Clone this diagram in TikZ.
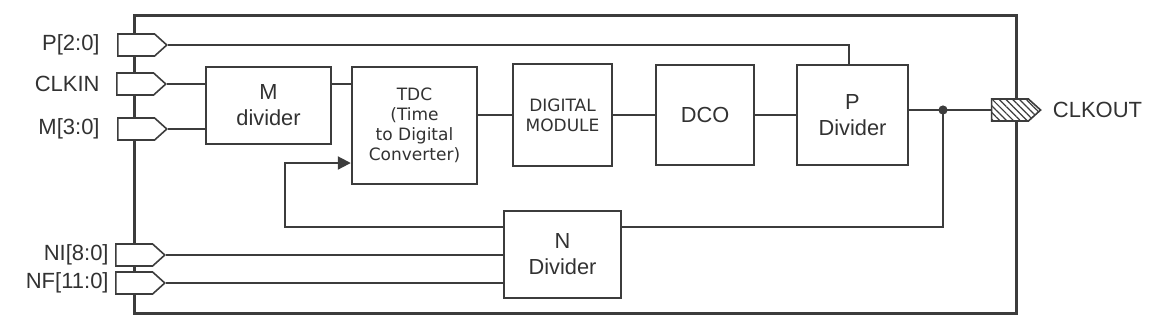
\documentclass[tikz,border=0pt]{standalone}
\usepackage{fontspec}
\setmainfont{Liberation Sans}
\newfontfamily\vfont{DejaVu Sans}
\usetikzlibrary{shapes.symbols, arrows.meta, positioning, calc, patterns.meta}
\definecolor{mydark}{RGB}{60,60,60}
\definecolor{mytext}{RGB}{50,50,50}
\tikzset{
  wire/.style={draw=mydark, line width=1pt},
  arrow/.style={wire, -{Triangle[length=6.5pt, width=6.5pt]}},
  blk/.style={draw=mydark, line width=1.2pt, fill=white, rectangle, align=center, inner sep=0pt, text=mytext, font=\fontsize{10.9}{13}\selectfont},
  vblk/.style={blk, font=\vfont\fontsize{8.5}{10}\selectfont},
  pin/.style={signal, signal to=east, signal pointer angle=84, draw=mydark, line width=0.8pt, fill=white, minimum width=24.5pt, minimum height=11pt, inner sep=0pt, anchor=west},
  pinlbl/.style={inner sep=0pt, text=mytext, font=\fontsize{11}{13}\selectfont}
}
\begin{document}
\begin{tikzpicture}[x=0.5pt, y=-0.5pt]
  \useasboundingbox (0,0) rectangle (1154,329);
  % chip boundary
  \draw[draw=mydark, line width=1.5pt] (134,15) rectangle (1016,313);

  % pins
  \node[pin] (pp) at (117,45) {};
  \node[pin] (pclk) at (116,84) {};
  \node[pin] (pm) at (117,129) {};
  \node[pin] (pni) at (115,255) {};
  \node[pin] (pnf) at (115,283) {};
  \node[pin, fill=none, preaction={fill=white}, pattern={Lines[angle=-45, distance=2.4pt, line width=0.6pt]}, pattern color=mydark] (pout) at (991,110) {};

  \node[pinlbl, left=8.5pt of pp] (lp) {P[2:0]};
  \node[pinlbl, left=8pt of pclk] (lclk) {CLKIN};
  \node[pinlbl, left=8.5pt of pm] (lm) {M[3:0]};
  \node[pinlbl, left=3pt of pni] (lni) {NI[8:0]};
  \node[pinlbl, left=3pt of pnf] (lnf) {NF[11:0]};
  \node[pinlbl, right=5.5pt of pout] (lout) {CLKOUT};

  % blocks
  \node[blk, minimum width=62.5pt, minimum height=38.5pt] (mdiv) at (268.5,105.5) {M\\divider};
  \node[vblk, minimum width=62.5pt, minimum height=58.5pt] (tdc) at (414.5,125.5) {TDC\\(Time\\to Digital\\Converter)};
  \node[vblk, minimum width=49.5pt, minimum height=51pt] (dig) at (562.5,115) {DIGITAL\\MODULE};
  \node[blk, minimum width=49pt, minimum height=50pt] (dco) at (705,115) {DCO};
  \node[blk, minimum width=55.5pt, minimum height=50pt] (pdiv) at (852.5,115) {P\\Divider};
  \node[blk, minimum width=58.5pt, minimum height=43.5pt] (ndiv) at (562.5,254.5) {N\\Divider};

  \coordinate (tap) at (943,110);
  \coordinate (fbr) at (943,227);
  \coordinate (fbl) at (285,227);
  \coordinate (fbt) at (285,163);

  % signal paths
  \draw[wire] (pclk.east) -- (pclk.east -| mdiv.west);
  \draw[wire] (pm.east) -- (pm.east -| mdiv.west);
  \draw[wire] (mdiv.east |- pclk.east) -- (tdc.west |- pclk.east);
  \draw[wire] (pp.east) -| ([xshift=-2pt]pdiv.north);
  \draw[wire] (tdc.east |- dig.west) -- (dig.west);
  \draw[wire] (dig) -- (dco);
  \draw[wire] (dco) -- (pdiv);
  \draw[wire] (pdiv.east |- tap) -- (pout.west);
  \fill[mydark] (tap) circle (2.3pt);

  % feedback
  \draw[wire] (tap) -- (fbr) -- (ndiv.east |- fbr);
  \draw[arrow] (ndiv.west |- fbl) -- (fbl) -- (fbt) -- (tdc.west |- fbt);
  \draw[wire] (pni.east) -- (pni.east -| ndiv.west);
  \draw[wire] (pnf.east) -- (pnf.east -| ndiv.west);
\end{tikzpicture}
\end{document}
